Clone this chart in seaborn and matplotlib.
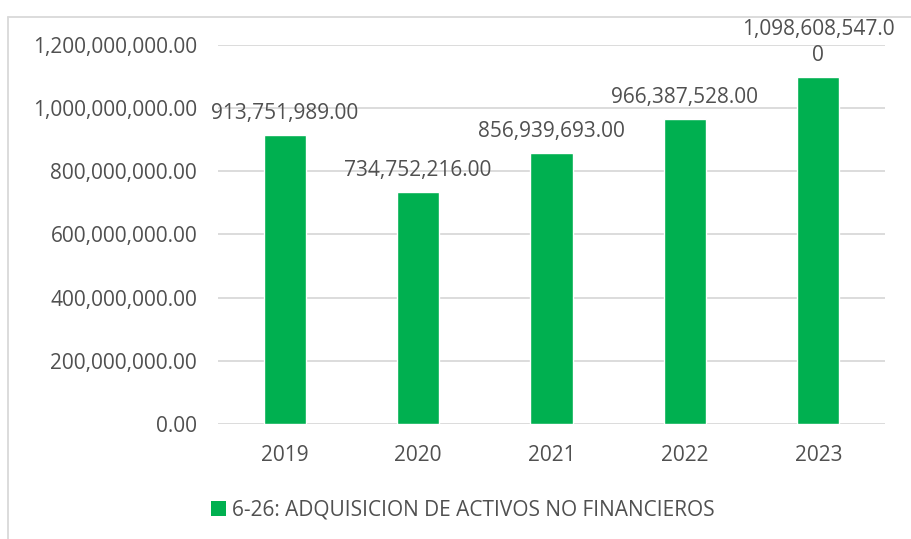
import matplotlib
matplotlib.use("Agg")
import matplotlib.pyplot as plt
import seaborn as sns
import pandas as pd
from matplotlib.patches import Patch
from matplotlib.lines import Line2D

# Datos del grafico
years = ["2019", "2020", "2021", "2022", "2023"]
values = [913751989.00, 734752216.00, 856939693.00, 966387528.00, 1098608547.00]
series_name = "6-26: ADQUISICION DE ACTIVOS NO FINANCIEROS"

GREEN = "#00b050"
TEXT = "#505050"
GRID = "#d9d9d9"
FS = 15

sns.set_theme(style="white")
plt.rcParams['font.family'] = ['Open Sans', 'DejaVu Sans']

df = pd.DataFrame({"year": years, "value": values})

fig = plt.figure(figsize=(9.11, 5.39), dpi=100)
W, H = 911, 539
ax = fig.add_axes([218 / W, 1 - 424 / H, (885 - 218) / W, (424 - 45) / H])

sns.barplot(data=df, x="year", y="value", color=GREEN, saturation=1,
            width=0.315, ax=ax)

ax.set_ylim(0, 1.2e9)
ax.set_yticks([i * 2e8 for i in range(7)])
ax.set_yticklabels([f"{t:,.2f}" for t in ax.get_yticks()])
ax.set_xlabel("")
ax.set_ylabel("")
ax.yaxis.grid(True, color=GRID, linewidth=1.3)
ax.set_axisbelow(True)
for s in ax.spines.values():
    s.set_visible(False)
ax.tick_params(axis="y", length=0, pad=15, labelsize=FS, labelcolor=TEXT)
ax.tick_params(axis="x", length=0, pad=15, labelsize=FS, labelcolor=TEXT)

# Etiquetas de datos (Excel parte la ultima en dos lineas)
labels = []
for v in values:
    txt = f"{v:,.2f}"
    if len(txt) > 15:
        txt = txt[:15] + "\n" + txt[15:]
    labels.append(txt)
ax.bar_label(ax.containers[0], labels=labels, padding=8, fontsize=FS,
             color=TEXT, linespacing=1.3)

# Leyenda
handle = Patch(facecolor=GREEN, edgecolor="none")
fig.legend([handle], [series_name], loc="center", bbox_to_anchor=(463 / W, 1 - 510 / H),
           frameon=False, fontsize=FS, labelcolor=TEXT, handlelength=0.7,
           handleheight=0.7, handletextpad=0.3)

# Marco del grafico
fig.add_artist(Line2D([8 / W, 8 / W], [0, 1 - 17 / H], color=GRID, linewidth=1.3))
fig.add_artist(Line2D([8 / W, 1], [1 - 17 / H, 1 - 17 / H], color=GRID, linewidth=1.3))

fig.savefig("out.png", dpi=100)
